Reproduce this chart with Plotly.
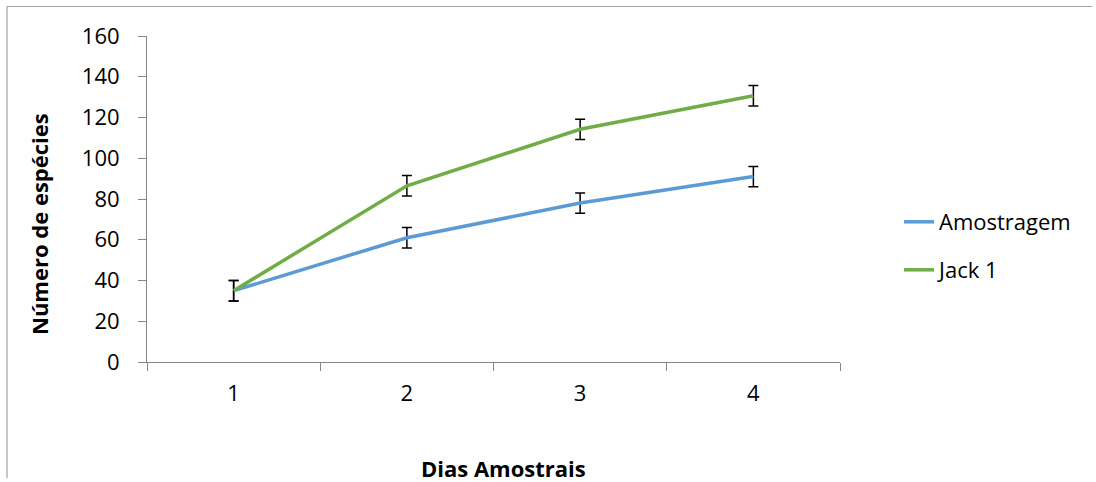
import plotly.graph_objects as go

categories = ["1", "2", "3", "4"]
amostragem = [35, 61, 78, 91]
jack1 = [35, 86.5, 114.2, 130.7]
amostragem_err = [5, 5, 5, 5]
jack1_err = [5, 5, 5, 5]

W, H = 1096, 482
L, R, T, B = 147, 256, 36, 120
PW, PH = W - L - R, H - T - B

def px(X):
    return (X - L) / PW

def py(Y):
    return (H - B - Y) / PH

FONT = "Open Sans"
AXC = "#868686"
FRAME = "#A0A0A0"

fig = go.Figure()
fig.add_trace(go.Scatter(
    x=categories, y=amostragem, mode="lines", name="Amostragem",
    line=dict(color="#5B9BD5", width=3.5),
    error_y=dict(type="data", array=amostragem_err, color="black", thickness=1.5, width=5),
    legend="legend",
))
fig.add_trace(go.Scatter(
    x=categories, y=jack1, mode="lines", name="Jack 1",
    line=dict(color="#70AD47", width=3.5),
    error_y=dict(type="data", array=jack1_err, color="black", thickness=1.5, width=5),
    legend="legend2",
))

fig.update_layout(
    width=W, height=H,
    margin=dict(l=L, r=R, t=T, b=B, autoexpand=False),
    paper_bgcolor="white", plot_bgcolor="white",
    font=dict(family=FONT, size=22, color="black"),
    showlegend=True,
    legend=dict(x=px(899), y=py(222), xanchor="left", yanchor="middle",
                font=dict(size=22), bgcolor="rgba(0,0,0,0)"),
    legend2=dict(x=px(899), y=py(270), xanchor="left", yanchor="middle",
                 font=dict(size=22), bgcolor="rgba(0,0,0,0)"),
    xaxis=dict(type="category", range=[-0.5, 3.5], autorange=False,
               showline=True, linecolor=AXC, linewidth=1,
               ticks="outside", tickson="boundaries", ticklen=8, tickcolor=AXC,
               showgrid=False, zeroline=False, ticklabelstandoff=12,
               tickfont=dict(size=22, color="black")),
    yaxis=dict(range=[0, 160], dtick=20, showline=True, linecolor=AXC, linewidth=1,
               ticks="outside", ticklen=8, tickcolor=AXC, showgrid=False,
               zeroline=False, ticklabelstandoff=14,
               tickfont=dict(size=22, color="black")),
    shapes=[
        dict(type="line", xref="paper", yref="paper",
             x0=px(7), x1=px(7), y0=py(6.5), y1=py(H - 4),
             line=dict(color=FRAME, width=1.2), layer="above"),
        dict(type="line", xref="paper", yref="paper",
             x0=px(7), x1=px(W - 4), y0=py(6.5), y1=py(6.5),
             line=dict(color=FRAME, width=1.2), layer="above"),
    ],
    annotations=[
        dict(text="<b>Dias Amostrais</b>", xref="paper", yref="paper",
             x=px(503), y=py(468), xanchor="center", yanchor="middle",
             showarrow=False, font=dict(size=22, color="black")),
        dict(text="<b>Número de espécies</b>", xref="paper", yref="paper",
             x=px(39), y=py(224), xanchor="center", yanchor="middle",
             textangle=-90, showarrow=False, font=dict(size=22, color="black")),
    ],
)

fig.write_html("out.html")
